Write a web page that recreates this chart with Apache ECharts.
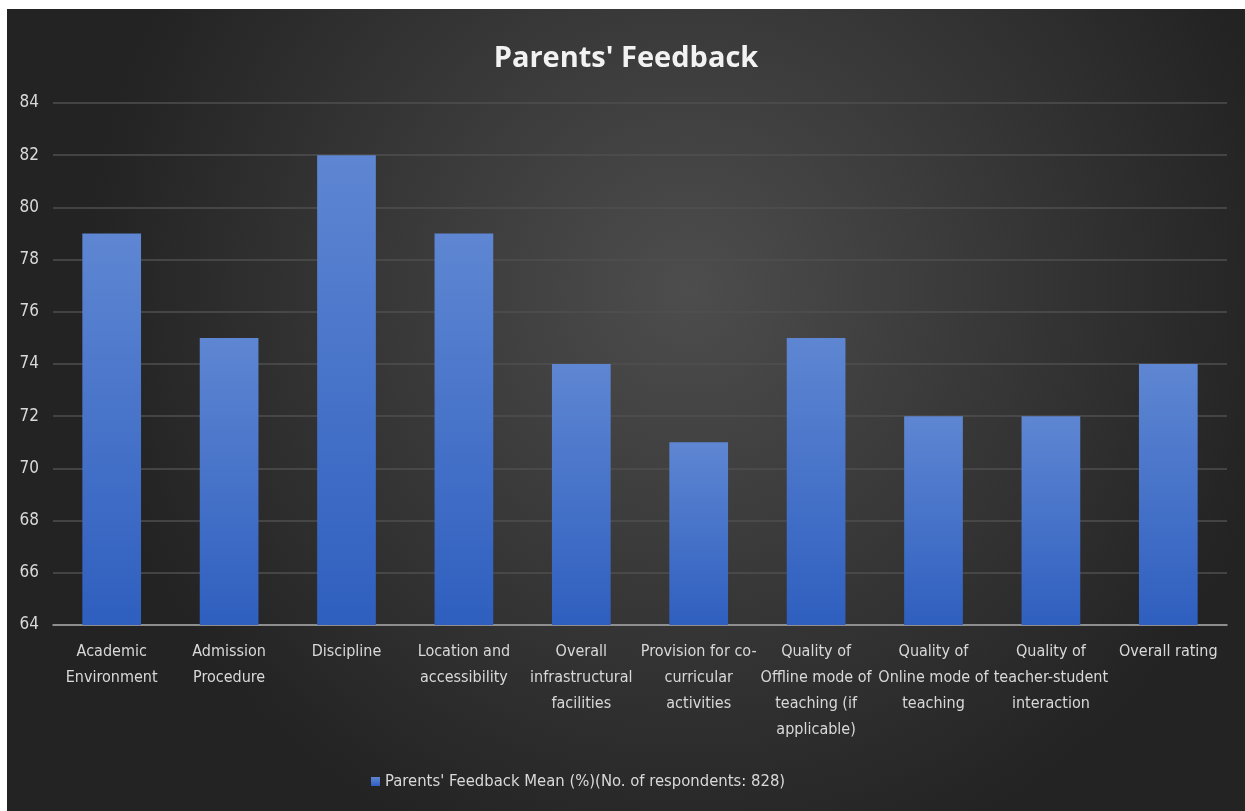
<!DOCTYPE html>
<html>
<head>
<meta charset="utf-8">
<script src="https://cdn.jsdelivr.net/npm/echarts@6/dist/echarts.min.js"></script>
<style>
  html, body { margin: 0; padding: 0; background: #fff; }
  #chart { position: absolute; left: 7px; top: 9px; width: 1238px; height: 802px; }
</style>
</head>
<body>
<div id="chart"></div>
<script>
// categories (line breaks as in the original chart)
var categories = [
  'Academic\nEnvironment',
  'Admission\nProcedure',
  'Discipline',
  'Location and\naccessibility',
  'Overall\ninfrastructural\nfacilities',
  'Provision for co-\ncurricular\nactivities',
  'Quality of\nOffline mode of\nteaching (if\napplicable)',
  'Quality of\nOnline mode of\nteaching',
  'Quality of\nteacher-student\ninteraction',
  'Overall rating'
]
var meanValues = [79, 75, 82, 79, 74, 71, 75, 72, 72, 74]
var seriesName = "Parents' Feedback Mean (%)(No. of respondents: 828)"
var yMin = 64, yMax = 84, yStep = 2

var fontFam = '"Liberation Sans Narrow", "DejaVu Sans Condensed", "Roboto", sans-serif'

var chart = echarts.init(document.getElementById('chart'))
var option = {
  backgroundColor: {
    type: 'radial', x: 0.55, y: 0.35, r: 0.75,
    colorStops: [
      { offset: 0, color: '#4d4d4d' },
      { offset: 1, color: '#232323' }
    ]
  },
  title: {
    text: "Parents' Feedback",
    left: 'center',
    top: 30,
    textStyle: {
      color: '#f2f2f2',
      fontSize: 29,
      fontWeight: 'bold',
      fontFamily: '"Open Sans", "DejaVu Sans", sans-serif'
    }
  },
  grid: { left: 46, right: 18, top: 94, bottom: 186, containLabel: false },
  legend: {
    bottom: 16,
    left: 359,
    itemWidth: 9,
    itemHeight: 9,
    icon: 'rect',
    selectedMode: false,
    textStyle: { color: '#d9d9d9', fontSize: 16.5, fontFamily: fontFam },
    data: [seriesName]
  },
  xAxis: {
    type: 'category',
    data: categories,
    axisLine: { lineStyle: { color: '#a6a6a6', width: 1.5 } },
    axisTick: { show: false },
    axisLabel: {
      interval: 0,
      color: '#d9d9d9',
      fontSize: 16,
      lineHeight: 26,
      margin: 14,
      fontFamily: fontFam
    }
  },
  yAxis: {
    type: 'value',
    min: yMin,
    max: yMax,
    interval: yStep,
    axisLine: { show: false },
    axisTick: { show: false },
    splitLine: { lineStyle: { color: '#4f4f4f', width: 1.5 } },
    axisLabel: { color: '#d9d9d9', fontSize: 17, margin: 14, fontFamily: fontFam }
  },
  series: [{
    name: seriesName,
    type: 'bar',
    data: meanValues,
    barCategoryGap: '50%',
    itemStyle: {
      color: {
        type: 'linear', x: 0, y: 0, x2: 0, y2: 1,
        colorStops: [
          { offset: 0, color: '#5e86d2' },
          { offset: 1, color: '#2f5fbf' }
        ]
      },
      shadowColor: 'rgba(0,0,0,0.45)',
      shadowBlur: 6,
      shadowOffsetX: 1,
      shadowOffsetY: 1
    }
  }]
}
chart.setOption(option)
</script>
</body>
</html>
